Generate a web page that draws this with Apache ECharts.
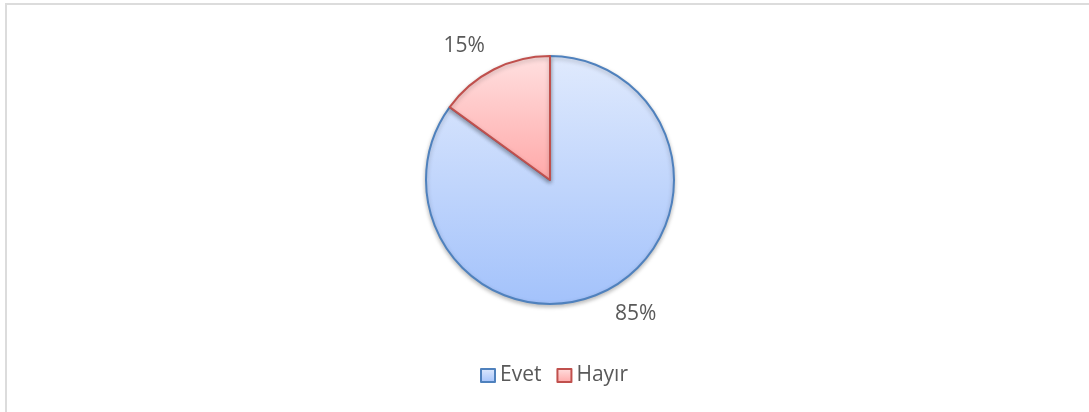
<!DOCTYPE html>
<html>
<head>
<meta charset="utf-8">
<script src="https://cdn.jsdelivr.net/npm/echarts@6/dist/echarts.min.js"></script>
<style>
  html, body { margin: 0; padding: 0; background: #fff; }
  #chart { width: 1089px; height: 412px; }
</style>
</head>
<body>
<div id="chart"></div>
<script>
// kategoriler ve yüzdeler
const categories = ['Evet', 'Hayır'];
const values = [85, 15];

const fills = [
    ['#e0eafd', '#a3c2fb'],
    ['#ffe0e0', '#ffa8a8']
];
const borders = ['#4f81bd', '#c0504d'];
const font = 'Open Sans';

const chart = echarts.init(document.getElementById('chart'), null, { renderer: 'canvas' });

const makeItemStyle = i => ({
    color: new echarts.graphic.LinearGradient(0, 0, 0, 1, [
        { offset: 0, color: fills[i][0] },
        { offset: 1, color: fills[i][1] }
    ]),
    borderColor: borders[i],
    borderWidth: 2
});

const data = categories.map((name, i) => ({
    name,
    value: values[i],
    itemStyle: makeItemStyle(i)
}));

chart.setOption({
    animation: false,
    textStyle: { fontFamily: font },
    graphic: [{
        type: 'rect',
        shape: { x: 6, y: 4, width: 1200, height: 500 },
        style: { fill: 'none', stroke: '#dcdcdc', lineWidth: 2 },
        silent: true
    }],
    legend: {
        bottom: 21,
        left: 475,
        itemWidth: 14,
        itemHeight: 13,
        itemGap: 15,
        icon: 'rect',
        textStyle: { color: '#595959', fontSize: 21, fontFamily: font },
        data: categories.map((name, i) => ({ name, itemStyle: makeItemStyle(i) }))
    },
    series: [{
        type: 'pie',
        center: [550, 180],
        radius: 124,
        startAngle: 90,
        clockwise: true,
        data,
        itemStyle: {
            shadowBlur: 4,
            shadowColor: 'rgba(0,0,0,0.25)',
            shadowOffsetY: 2
        },
        label: {
            show: true,
            position: 'outside',
            formatter: '{c}%',
            color: '#595959',
            fontSize: 21,
            fontFamily: font,
            distanceToLabelLine: -3
        },
        labelLine: { show: false, length: 26, length2: 0 },
        emphasis: { disabled: true }
    }]
});
</script>
</body>
</html>
